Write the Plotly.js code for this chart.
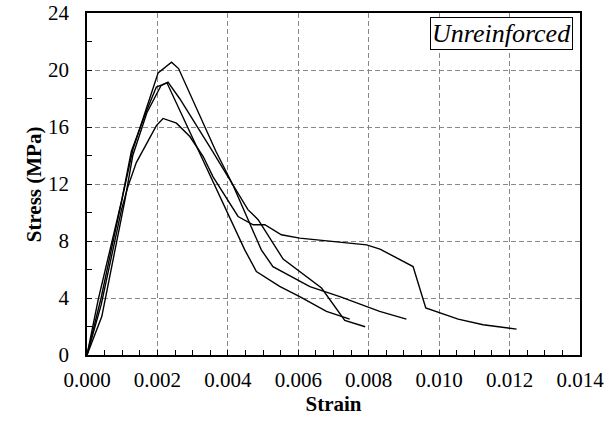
<!DOCTYPE html>
<html>
<head>
<meta charset="utf-8">
<script src="https://cdn.plot.ly/plotly-3.0.1.min.js"></script>
<style>html,body{margin:0;padding:0;background:#fff;}#chart{width:606px;height:423px;}</style>
</head>
<body>
<div id="chart"></div>
<script>
// Specimen A (peak ~20.6 MPa)
const strainA = [0, 0.0004, 0.0010, 0.0013, 0.0017, 0.00202, 0.0024, 0.0026, 0.00366, 0.00415, 0.00495, 0.00528, 0.00633, 0.00718, 0.00831, 0.00907];
const stressA = [0, 4.0, 11.0, 14.4, 17.4, 19.8, 20.55, 20.1, 14.3, 11.9, 7.38, 6.2, 4.8, 4.1, 3.06, 2.52];
// Specimen B (peak ~19.1 MPa, steep softening)
const strainB = [0, 0.00032, 0.00099, 0.00126, 0.0017, 0.00197, 0.00227, 0.0032, 0.00448, 0.00481, 0.00547, 0.00604, 0.0068, 0.00746];
const stressB = [0, 3.9, 10.9, 14.3, 17.2, 18.8, 19.1, 14.2, 7.38, 5.86, 4.81, 4.1, 3.06, 2.52];
// Specimen C (peak ~19.1 MPa, kinked)
const strainC = [0, 0.00042, 0.00108, 0.0013, 0.0017, 0.0021, 0.0023, 0.00263, 0.00354, 0.0040, 0.00457, 0.00486, 0.00557, 0.00666, 0.00732, 0.0079];
const stressC = [0, 2.7, 10.9, 14.0, 17.0, 18.9, 19.15, 18.0, 14.4, 12.5, 10.2, 9.5, 6.73, 4.7, 2.43, 1.98];
// Specimen D (peak ~16.6 MPa, long tail)
const strainD = [0, 0.0004, 0.00098, 0.00116, 0.0014, 0.00155, 0.00197, 0.00216, 0.00254, 0.00292, 0.0033, 0.00358, 0.00429, 0.00472, 0.00505, 0.00552, 0.00604, 0.00794, 0.00832, 0.00926, 0.00962, 0.01054, 0.01125, 0.0122];
const stressD = [0, 3.5, 10.2, 11.8, 13.5, 14.2, 16.1, 16.6, 16.27, 15.33, 13.93, 12.5, 9.72, 9.14, 9.14, 8.44, 8.2, 7.73, 7.43, 6.21, 3.3, 2.52, 2.12, 1.82];

const xTicks = [0, 0.002, 0.004, 0.006, 0.008, 0.010, 0.012, 0.014];
const xTickText = ['0.000','0.002','0.004','0.006','0.008','0.010','0.012','0.014'];
const yTicks = [0, 4, 8, 12, 16, 20, 24];
const labelText = 'Unreinforced';
const xTitle = 'Strain';
const yTitle = 'Stress (MPa)';

const series = [[strainA, stressA], [strainB, stressB], [strainC, stressC], [strainD, stressD]];
const traces = series.map(s => ({
  x: s[0], y: s[1], type: 'scatter', mode: 'lines',
  line: {color: '#000', width: 1.4}, showlegend: false, hoverinfo: 'skip'
}));

const FAM = 'Liberation Serif';
const f = (size) => ({family: FAM, size: size, color: '#000'});

const layout = {
  width: 606, height: 423,
  margin: {l: 87, r: 26, t: 13, b: 68},
  paper_bgcolor: '#fff', plot_bgcolor: '#fff',
  font: f(21),
  xaxis: {
    range: [0, 0.014], tickvals: xTicks, ticktext: xTickText,
    showline: true, linecolor: '#000', linewidth: 1.8, mirror: true,
    ticks: 'inside', ticklen: 5, tickcolor: '#000', tickwidth: 1,
    showgrid: true, gridcolor: '#888888', gridwidth: 1, griddash: '5px,3px',
    minor: {dtick: 0.0005, ticks: 'inside', ticklen: 5, tickcolor: '#000', showgrid: false},
    zeroline: false, tickfont: f(21), ticklabelstandoff: 5,
    title: {text: '<b>' + xTitle + '</b>', font: f(21), standoff: 0}
  },
  yaxis: {
    range: [0, 24], tickvals: yTicks,
    showline: true, linecolor: '#000', linewidth: 1.8, mirror: true,
    ticks: 'inside', ticklen: 5, tickcolor: '#000', tickwidth: 1,
    showgrid: true, gridcolor: '#888888', gridwidth: 1, griddash: '5px,3px',
    minor: {dtick: 2, ticks: 'inside', ticklen: 5, tickcolor: '#000', showgrid: false},
    zeroline: false, tickfont: f(21), ticklabelstandoff: 12
  },
  annotations: [{
    xref: 'paper', yref: 'paper', x: 0.985, y: 0.987, xanchor: 'right', yanchor: 'top',
    text: '<i>' + labelText + '</i>', showarrow: false,
    font: f(26),
    bordercolor: '#000', borderwidth: 1, borderpad: 1, bgcolor: '#fff'
  }, {
    xref: 'paper', yref: 'paper', x: -0.107, y: 0.5, xanchor: 'center', yanchor: 'middle',
    text: '<b>' + yTitle + '</b>', textangle: -90, showarrow: false, font: f(21)
  }]
};

Plotly.newPlot('chart', traces, layout, {displayModeBar: false, staticPlot: true});
</script>
</body>
</html>
